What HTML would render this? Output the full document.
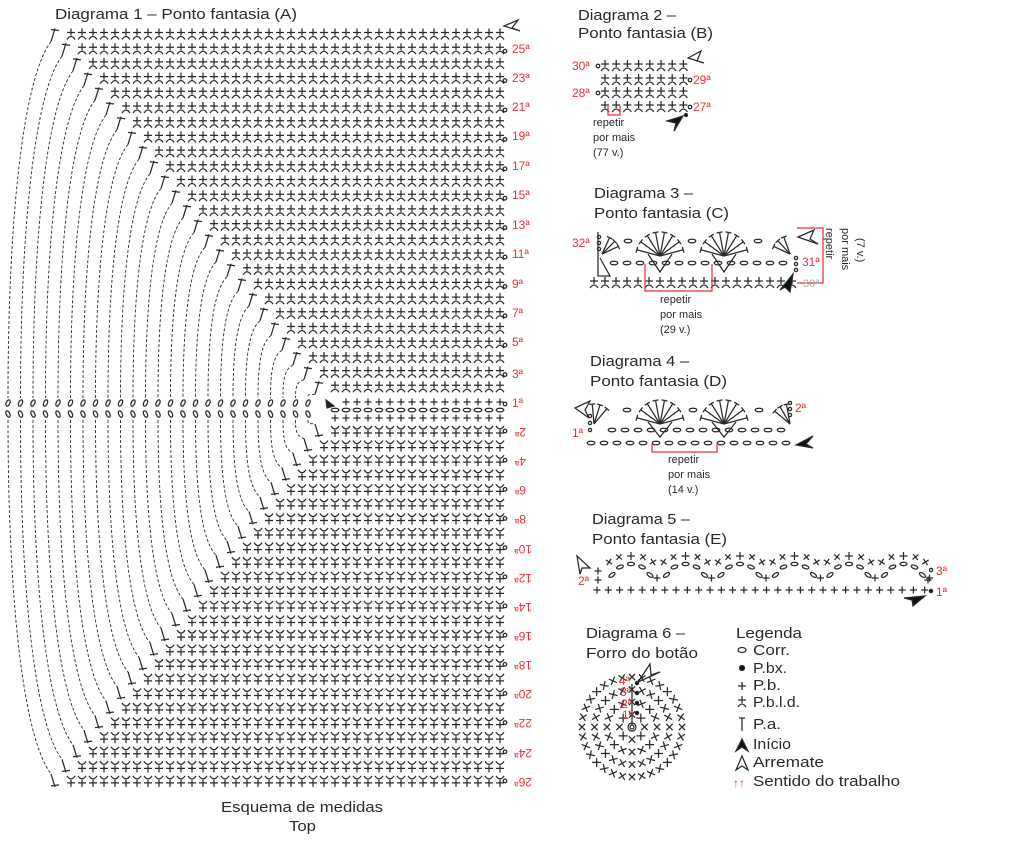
<!DOCTYPE html>
<html><head><meta charset="utf-8"><style>
html,body{margin:0;padding:0;background:#fff;}
svg{display:block;font-family:"Liberation Sans",sans-serif;}
.t{font-size:15px;fill:#2a2a2a;}
.s{font-size:11px;fill:#2a2a2a;}
.r{font-size:12px;fill:#e8303a;}
</style></head><body>
<svg id="c" width="1016" height="848" viewBox="0 0 1016 848" xmlns="http://www.w3.org/2000/svg">
<g id="g" fill="none" stroke="#2a2a2a" stroke-width="1.25"></g>
<text class="t" x="55" y="19" textLength="242" lengthAdjust="spacingAndGlyphs">Diagrama 1 – Ponto fantasia (A)</text>
<text class="t" x="578" y="20" textLength="98" lengthAdjust="spacingAndGlyphs">Diagrama 2 –</text>
<text class="t" x="578" y="38" textLength="135" lengthAdjust="spacingAndGlyphs">Ponto fantasia (B)</text>
<text class="t" x="594" y="198" textLength="99" lengthAdjust="spacingAndGlyphs">Diagrama 3 –</text>
<text class="t" x="594" y="218" textLength="135" lengthAdjust="spacingAndGlyphs">Ponto fantasia (C)</text>
<text class="t" x="590" y="366" textLength="99" lengthAdjust="spacingAndGlyphs">Diagrama 4 –</text>
<text class="t" x="590" y="386" textLength="137" lengthAdjust="spacingAndGlyphs">Ponto fantasia (D)</text>
<text class="t" x="592" y="524" textLength="98" lengthAdjust="spacingAndGlyphs">Diagrama 5 –</text>
<text class="t" x="592" y="544" textLength="135" lengthAdjust="spacingAndGlyphs">Ponto fantasia (E)</text>
<text class="t" x="586" y="638" textLength="99" lengthAdjust="spacingAndGlyphs">Diagrama 6 –</text>
<text class="t" x="586" y="658" textLength="112" lengthAdjust="spacingAndGlyphs">Forro do botão</text>
<text class="t" x="736" y="638" textLength="66" lengthAdjust="spacingAndGlyphs">Legenda</text>
<text class="t" x="753" y="655" textLength="37" lengthAdjust="spacingAndGlyphs">Corr.</text>
<text class="t" x="753" y="673" textLength="34" lengthAdjust="spacingAndGlyphs">P.bx.</text>
<text class="t" x="753" y="690" textLength="28" lengthAdjust="spacingAndGlyphs">P.b.</text>
<text class="t" x="753" y="707" textLength="47" lengthAdjust="spacingAndGlyphs">P.b.l.d.</text>
<text class="t" x="753" y="729" textLength="28" lengthAdjust="spacingAndGlyphs">P.a.</text>
<text class="t" x="753" y="749" textLength="38" lengthAdjust="spacingAndGlyphs">Início</text>
<text class="t" x="753" y="767" textLength="71" lengthAdjust="spacingAndGlyphs">Arremate</text>
<text class="t" x="753" y="786" textLength="147" lengthAdjust="spacingAndGlyphs">Sentido do trabalho</text>
<text class="t" x="221" y="812" textLength="162" lengthAdjust="spacingAndGlyphs">Esquema de medidas</text>
<text class="t" x="289" y="831" textLength="27" lengthAdjust="spacingAndGlyphs">Top</text>
<text class="s" x="593" y="126">repetir</text>
<text class="s" x="593" y="141">por mais</text>
<text class="s" x="593" y="156">(77 v.)</text>
<text class="s" x="660" y="303">repetir</text>
<text class="s" x="660" y="318">por mais</text>
<text class="s" x="660" y="333">(29 v.)</text>
<text class="s" x="668" y="463">repetir</text>
<text class="s" x="668" y="478">por mais</text>
<text class="s" x="668" y="493">(14 v.)</text>
<text class="s" transform="translate(826,228) rotate(90)">repetir</text>
<text class="s" transform="translate(842,228) rotate(90)">por mais</text>
<text class="s" transform="translate(857,238) rotate(90)">(7 v.)</text>
<text class="r" x="572" y="70">30ª</text>
<text class="r" x="693" y="84">29ª</text>
<text class="r" x="572" y="97">28ª</text>
<text class="r" x="693" y="111">27ª</text>
<text class="r" x="572" y="247">32ª</text>
<text class="r" x="802" y="266">31ª</text>
<text class="s" x="803" y="287" style="fill:#aaa">30ª</text>
<text class="r" x="572" y="437">1ª</text>
<text class="r" x="795" y="412">2ª</text>
<text class="r" x="578" y="585">2ª</text>
<text class="r" x="936" y="575">3ª</text>
<text class="r" x="936" y="596">1ª</text>
<text class="r" x="619" y="685">4ª</text>
<text class="r" x="620" y="696">3ª</text>
<text class="r" x="621" y="708">2ª</text>
<text class="r" x="622" y="719">1ª</text>
<text x="733" y="787" style="font-size:12px;fill:#e8303a">↑↑</text>
<text class="r" x="512" y="407">1ª</text>
<text class="r" x="512" y="378">3ª</text>
<text class="r" x="512" y="346">5ª</text>
<text class="r" x="512" y="317">7ª</text>
<text class="r" x="512" y="288">9ª</text>
<text class="r" x="512" y="258">11ª</text>
<text class="r" x="512" y="229">13ª</text>
<text class="r" x="512" y="199">15ª</text>
<text class="r" x="512" y="170">17ª</text>
<text class="r" x="512" y="140">19ª</text>
<text class="r" x="512" y="111">21ª</text>
<text class="r" x="512" y="82">23ª</text>
<text class="r" x="512" y="53">25ª</text>
<text class="r" transform="rotate(180 519 432)" x="512" y="436">2ª</text>
<text class="r" transform="rotate(180 519 461)" x="512" y="465">4ª</text>
<text class="r" transform="rotate(180 519 490)" x="512" y="494">6ª</text>
<text class="r" transform="rotate(180 519 519)" x="512" y="523">8ª</text>
<text class="r" transform="rotate(180 522 549)" x="512" y="553">10ª</text>
<text class="r" transform="rotate(180 522 578)" x="512" y="582">12ª</text>
<text class="r" transform="rotate(180 522 607)" x="512" y="611">14ª</text>
<text class="r" transform="rotate(180 522 636)" x="512" y="640">16ª</text>
<text class="r" transform="rotate(180 522 665)" x="512" y="669">18ª</text>
<text class="r" transform="rotate(180 522 694)" x="512" y="698">20ª</text>
<text class="r" transform="rotate(180 522 723)" x="512" y="727">22ª</text>
<text class="r" transform="rotate(180 522 753)" x="512" y="757">24ª</text>
<text class="r" transform="rotate(180 522 782)" x="512" y="786">26ª</text>
</svg>
<script>
var g=document.getElementById('g'),NS='http://www.w3.org/2000/svg';
function el(t,a){var e=document.createElementNS(NS,t);for(var k in a)e.setAttribute(k,a[k]);g.appendChild(e);return e;}
function P(d,extra){var a={d:d};if(extra)for(var k in extra)a[k]=extra[k];return el('path',a);}
function pbld(x,y,f){f=f||1;P('M'+x+','+(y-6*f)+'V'+(y+1*f)+'M'+(x-4)+','+(y-2*f)+'H'+(x+4)+'M'+(x-4)+','+(y+5*f)+'Q'+x+','+(y-1*f)+' '+(x+4)+','+(y+5*f));}
function plus(x,y,s){s=s||3.5;P('M'+(x-s)+','+y+'H'+(x+s)+'M'+x+','+(y-s)+'V'+(y+s));}
function xx(x,y,s,a){s=s||3.5;var c=Math.cos(a||0.785),d=Math.sin(a||0.785);P('M'+(x-s*c)+','+(y-s*d)+'L'+(x+s*c)+','+(y+s*d)+'M'+(x+s*d)+','+(y-s*c)+'L'+(x-s*d)+','+(y+s*c));}
function ov(x,y,rx,ry,rot){el('ellipse',{cx:x,cy:y,rx:rx||3.8,ry:ry||1.8,transform:'rotate('+(rot||0)+' '+x+' '+y+')'});}
function circ(x,y,r,fill){el('circle',{cx:x,cy:y,r:r||1.8,fill:fill||'none'});}
for(var i=1;i<=26;i++){
  var y=403-(i-1)*14.7-1, xs=54+(26-i)*11;
  if(i==1){for(var x=500;x>=340;x-=11)plus(x,y);}
  else{
    for(var x=500;x>xs+6;x-=11)pbld(x,y,1);
    P('M'+(xs-3)+','+(y+7)+'L'+(xs+1)+','+(y-6)+'M'+(xs-3)+','+(y-5)+'L'+(xs+5)+','+(y-4));
    var k=26-i,cx=8+12.5*k;
    P('M'+(xs-3)+','+(y+7)+'C'+(xs-3-(xs-cx)*0.6)+','+(y+7+(398-y)*0.1)+' '+cx+','+(y+(398-y)*0.5)+' '+cx+',398',{'stroke-dasharray':'3,2','stroke-width':'0.9'});
    ov(cx,403,1.8,3.4,25);ov(cx,414,1.8,3.4,-25);
    var yl=431+(i-2)*14.58;
    for(var x=500;x>xs+6;x-=11)pbld(x,yl,-1);
    P('M'+(xs-3)+','+(yl-7)+'L'+(xs+1)+','+(yl+6)+'M'+(xs-3)+','+(yl+5)+'L'+(xs+5)+','+(yl+4));
    P('M'+cx+',420C'+cx+','+(yl-(yl-420)*0.5)+' '+(xs-3-(xs-cx)*0.6)+','+(yl-7-(yl-420)*0.1)+' '+(xs-3)+','+(yl-7),{'stroke-dasharray':'3,2','stroke-width':'0.9'});
    if(i%2==1)circ(505,y+2,1.8);else circ(505,yl,1.8);
  }
}
circ(505,404,1.8);
for(var x=500;x>=335;x-=11)ov(x,410,3.8,1.8);
for(var x=500;x>=330;x-=11)plus(x,418);
P('M326,400L334,406L327,408Z',{fill:'#222'});
P('M504,26L518,20L512,28L520,31Z');
var d2y=[66,80,93,107];
for(var r=0;r<4;r++){for(var c=0;c<8;c++)pbld(605+c*11.2,d2y[r],1);
 if(r%2==0)circ(598,d2y[r],1.8);else circ(690,d2y[r],1.8);}
P('M608,106V115H620V106',{stroke:'#e8303a'});
P('M688,58L701,51L697,61L704,63Z');
P('M667,121L683,116L674,131L676,123Z',{fill:'#111'});circ(686,115,1.5,'#111');
function fan(cx,cy,r,a0,a1,n){for(var j=0;j<n;j++){var a=(a0+(a1-a0)*j/(n-1))*Math.PI/180,ex=cx+r*Math.cos(a),ey=cy-r*Math.sin(a);P('M'+cx+','+cy+'L'+ex+','+ey);var px=-Math.sin(a)*3,py=-Math.cos(a)*3;P('M'+(ex-px)+','+(ey-py)+'L'+(ex+px)+','+(ey+py));}}
for(var x=614;x<=790;x+=13)ov(x,263);
fan(660,256,24,165,15,8);fan(724,256,24,165,15,8);
fan(602,254,18,65,25,3);fan(790,254,18,155,110,3);
ov(628,241);ov(692,241);ov(758,241);
P('M648,254L660,272L672,254M712,254L724,272L736,254M598,232V276H610L600,258');
circ(599,237,1.6);circ(599,243,1.6);circ(599,249,1.6);circ(796,258,1.6);circ(796,264,1.6);circ(796,270,1.6);
for(var x=594;x<=792;x+=11)pbld(x,283,1);
P('M645,264V291H712V264',{stroke:'#e8303a'});
P('M797,228H823V283H797',{stroke:'#e8303a'});
P('M798,237L814,230L810,239L818,244Z');
P('M780,290L793,274L790,292L785,287Z',{fill:'#111'});
for(var x=591;x<=795;x+=13)ov(x,443);
for(var x=612;x<=785;x+=13)ov(x,430);
fan(660,424,24,165,15,8);fan(724,424,24,165,15,8);
fan(594,424,20,95,50,3);fan(790,424,20,140,100,3);
ov(627,410);ov(693,410);ov(759,410);
P('M648,422L660,437L672,422M712,422L724,437L736,422');
circ(590,416,1.6);circ(590,423,1.6);circ(590,430,1.6);circ(790,403,1.6);circ(790,409,1.6);circ(790,415,1.6);
P('M652,444V452H717V444',{stroke:'#e8303a'});
P('M575,408L590,401L585,410L589,418Z');
P('M796,445L813,436L806,444L813,448Z',{fill:'#111'});
for(var x=597;x<=928;x+=11.3)plus(x,590);
for(var s=0;s<6;s++){var b=604+s*54.5;
 ov(b+8,575,3.5,1.7,-35);ov(b+16,567,3.5,1.7,-20);ov(b+27,564,3.5,1.7,0);ov(b+38,567,3.5,1.7,20);ov(b+46,575,3.5,1.7,35);
 xx(b+5,562,3.8,0.6);xx(b+15,557,3.8,0.7);plus(b+27,556,4);xx(b+39,557,3.8,0.9);xx(b+49,562,3.8,1.0);plus(b+53,578);}
plus(598,580);plus(598,571);plus(928,580);circ(931,570,1.6);circ(931,591,1.6,'#111');
P('M577,556L590,568L582,568L580,574Z');
P('M904,598L925,596L913,606L912,600Z',{fill:'#111'});
for(var ring=1;ring<=4;ring++){var R=ring*12.5,n=ring*8;for(var j=0;j<n;j++){var a=j/n*2*Math.PI;xx(632+R*Math.cos(a),727+R*Math.sin(a),4.5,a+0.785);}}
circ(632,727,4);circ(632,727,2);
P('M632,684V725');circ(637,693,1.6,'#111');circ(637,703,1.6,'#111');circ(637,713,1.6,'#111');circ(637,683,1.6,'#111');
P('M638,682L650,664L651,675L660,672Z');
el('ellipse',{cx:742,cy:650,rx:4,ry:2.5});
circ(742,668,2.5,'#111');
plus(742,686,4);
pbld(742,702,1);
P('M742,718V731M739,718H745');
P('M742,739L736,751L742,747L748,751Z',{fill:'#111'});
P('M742,756L736,770L742,766L748,770Z');
</script>
</body></html>
